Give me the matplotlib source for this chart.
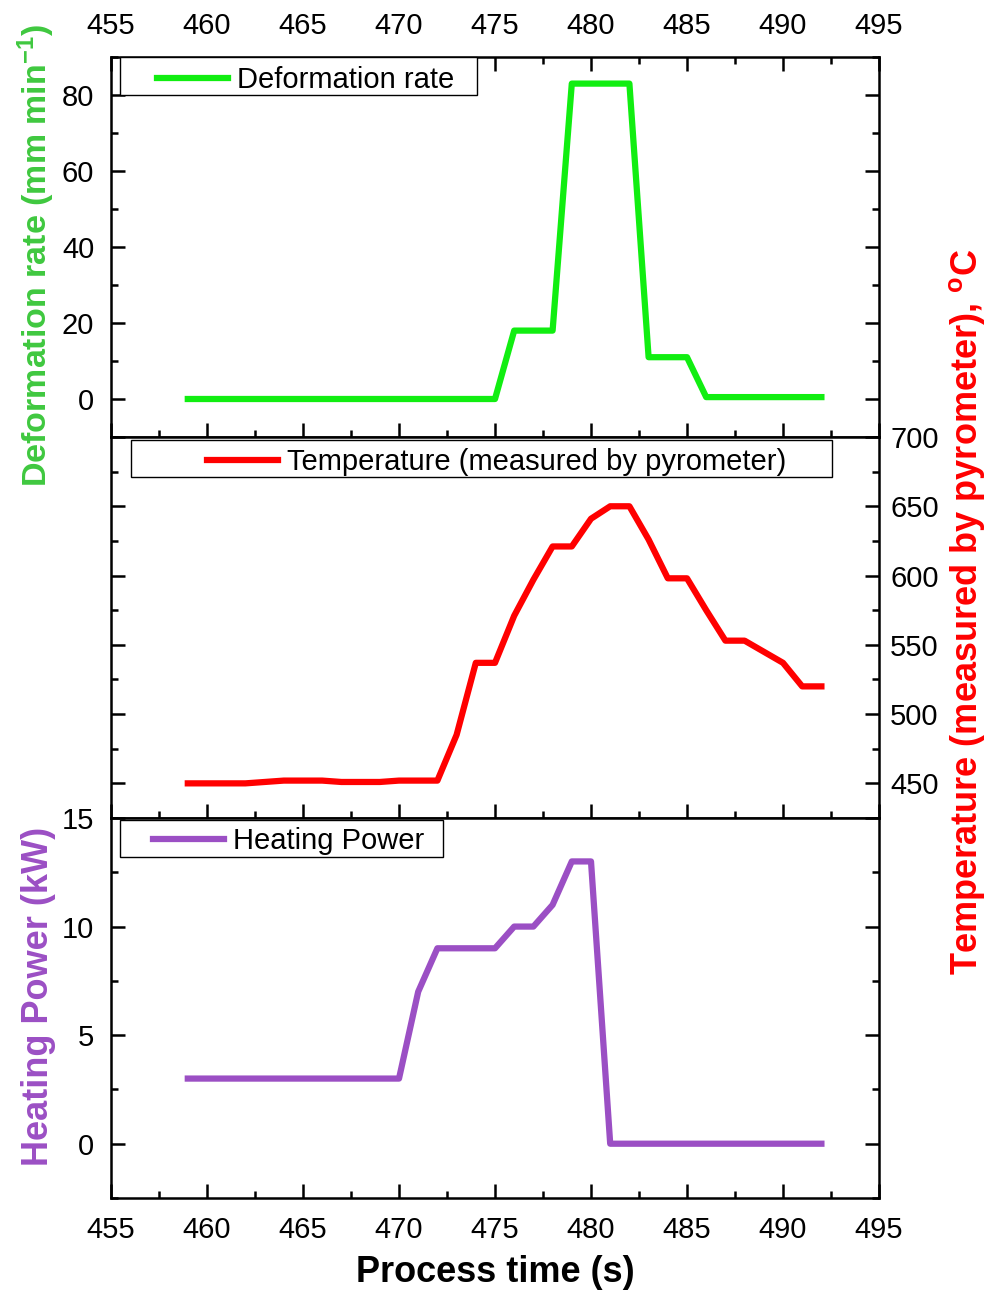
import matplotlib
matplotlib.use('Agg')
import matplotlib.pyplot as plt
from matplotlib.patches import Rectangle
from matplotlib.ticker import MultipleLocator

plt.rcParams['font.family'] = ['Liberation Sans', 'DejaVu Sans']
plt.rcParams['mathtext.fontset'] = 'custom'
plt.rcParams['mathtext.rm'] = 'Liberation Sans'
plt.rcParams['mathtext.bf'] = 'Liberation Sans:bold'
plt.rcParams['mathtext.it'] = 'Liberation Sans:italic'

# ---------------- data ----------------
t_def = [459, 475, 476, 478, 479, 482, 483, 485, 486, 492]
deformation_rate = [0, 0, 18, 18, 83, 83, 11, 11, 0.5, 0.5]

t_temp = [459, 462, 464, 466, 467, 469, 470, 472, 473, 474, 475, 476, 477,
          478, 479, 480, 481, 482, 483, 484, 485, 486, 487, 488, 490, 491, 492]
temperature = [450, 450, 452, 452, 451, 451, 452, 452, 485, 537, 537, 571, 597,
               621, 621, 641, 650, 650, 626, 598, 598, 575, 553, 553, 537, 520, 520]

t_pow = [459, 470, 471, 472, 475, 476, 477, 478, 479, 480, 481, 492]
heating_power = [3, 3, 7, 9, 9, 10, 10, 11, 13, 13, 0, 0]

x_ticks = [455, 460, 465, 470, 475, 480, 485, 490, 495]
def_ticks = [0, 20, 40, 60, 80]
temp_ticks = [450, 500, 550, 600, 650, 700]
pow_ticks = [0, 5, 10, 15]

labels = ['Deformation rate', 'Temperature (measured by pyrometer)', 'Heating Power']

# ---------------- styles ----------------
c_green = '#11ee11'
c_green_lab = '#3fc83f'
c_red = '#ff0000'
c_purple = '#9b4fc4'
LW = 4.5
FS = 21
LFS = 26

W, H = 986, 1291
fig = plt.figure(figsize=(W / 100, H / 100), dpi=100)

def fr(y_top, y_bot):
    return [111 / W, 1 - y_bot / H, 768 / W, (y_bot - y_top) / H]

ax1 = fig.add_axes(fr(57, 437))
ax2 = fig.add_axes(fr(437, 818))
ax3 = fig.add_axes(fr(818, 1198))

for ax in (ax1, ax2, ax3):
    ax.set_xlim(455, 495)
    ax.set_xticks(x_ticks)
    ax.xaxis.set_minor_locator(MultipleLocator(2.5))
    for s in ax.spines.values():
        s.set_linewidth(1.8)
    ax.tick_params(which='major', direction='in', length=10, width=1.8, labelsize=FS)
    ax.tick_params(which='minor', direction='in', length=5, width=1.8)

# top panel
ax1.plot(t_def, deformation_rate, color=c_green, lw=LW, label=labels[0])
ax1.set_ylim(-10, 90)
ax1.set_yticks(def_ticks)
ax1.yaxis.set_minor_locator(MultipleLocator(10))
ax1.tick_params(axis='x', which='both', top=True, bottom=True, labeltop=True, labelbottom=False)
ax1.tick_params(axis='x', which='major', pad=12)
ax1.tick_params(axis='y', which='both', left=True, right=True, labelleft=True, labelright=False)
ax1.tick_params(axis='y', which='major', pad=12)
ax1.set_ylabel(r'Deformation rate (mm min$^{\mathbf{-1}}$)', color=c_green_lab,
               fontsize=24.5, fontweight='bold')
ax1.yaxis.set_label_coords(-0.07, 0.477)

# middle panel
ax2.plot(t_temp, temperature, color=c_red, lw=LW, label=labels[1])
ax2.set_ylim(425, 700)
ax2.set_yticks(temp_ticks)
ax2.yaxis.set_minor_locator(MultipleLocator(25))
ax2.tick_params(axis='x', which='both', top=False, bottom=True, labeltop=False, labelbottom=False)
ax2.tick_params(axis='y', which='both', left=True, right=True, labelleft=False, labelright=True)
ax2.tick_params(axis='y', which='major', pad=8)
ax2.yaxis.set_label_position('right')
ax2.set_ylabel(r'Temperature (measured by pyrometer), $^{\mathbf{o}}$C', color=c_red,
               fontsize=LFS, fontweight='bold', rotation=90)
ax2.yaxis.set_label_coords(1.088, 0.54)

# bottom panel
ax3.plot(t_pow, heating_power, color=c_purple, lw=LW, label=labels[2])
ax3.set_ylim(-2.5, 15)
ax3.set_yticks(pow_ticks)
ax3.yaxis.set_minor_locator(MultipleLocator(2.5))
ax3.tick_params(axis='x', which='both', top=False, bottom=True, labeltop=False, labelbottom=True)
ax3.tick_params(axis='x', which='major', pad=13)
ax3.tick_params(axis='y', which='major', pad=12)
ax3.tick_params(axis='y', which='both', left=True, right=True, labelleft=True, labelright=False)
ax3.set_ylabel('Heating Power (kW)', color=c_purple, fontsize=LFS, fontweight='bold')
ax3.yaxis.set_label_coords(-0.072, 0.53)
ax3.set_xlabel('Process time (s)', fontsize=LFS, fontweight='bold', labelpad=8)

# legends: frame rectangle + frameless legend
leg_specs = [
    (ax1, (0.0117, 0.900, 0.4648, 0.100), (0.0599, 0.940)),
    (ax2, (0.0260, 0.895, 0.9128, 0.097), (0.1250, 0.935)),
    (ax3, (0.0117, 0.897, 0.4206, 0.097), (0.0547, 0.940)),
]
for ax, (x0, y0, w, h), anchor in leg_specs:
    ax.add_patch(Rectangle((x0, y0), w, h, transform=ax.transAxes, facecolor='white',
                           edgecolor='black', lw=1.0, zorder=4, clip_on=False))
    lg = ax.legend(loc='center left', bbox_to_anchor=anchor, frameon=False, fontsize=FS,
                   borderpad=0, borderaxespad=0, handlelength=2.45, handletextpad=0.3)
    lg.set_zorder(5)

fig.savefig('out.png', dpi=100)
